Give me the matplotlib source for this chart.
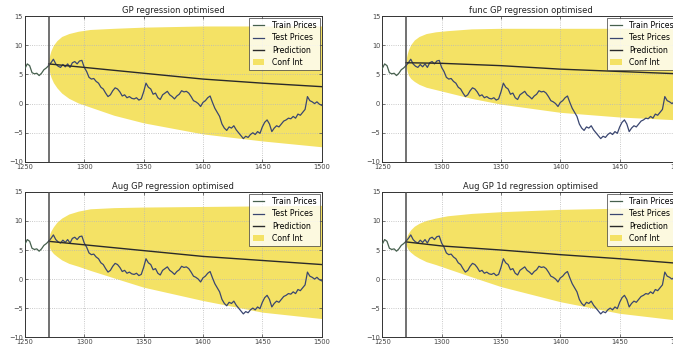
import matplotlib
matplotlib.use("Agg")
import matplotlib.pyplot as plt
import numpy as np

# observed prices (every 2 steps)
days = np.arange(1250, 1501, 2)
prices = [6.0, 6.8, 6.5, 5.3, 5.1, 5.2, 4.8, 5.2, 5.8, 6.1,
          6.5, 7.0, 7.6, 6.8, 6.4, 6.2, 6.7, 6.3, 6.8, 6.2,
          7.0, 7.2, 6.8, 7.3, 7.4, 6.2, 5.5, 4.5, 4.2, 4.3,
          3.8, 3.5, 2.8, 2.5, 1.8, 1.2, 1.5, 2.2, 2.7, 2.5,
          2.0, 1.3, 1.5, 1.0, 1.2, 0.9, 0.8, 1.0, 0.6, 0.8,
          2.0, 3.5, 2.8, 2.5, 1.6, 1.8, 1.0, 0.7, 1.5, 1.8,
          2.1, 1.5, 1.2, 0.8, 1.3, 1.6, 2.2, 2.0, 2.1, 1.8,
          1.2, 0.5, 0.3, 0.0, -0.5, 0.2, 0.5, 1.0, 1.3, 0.2,
          -0.8, -1.5, -2.2, -3.5, -4.2, -4.6, -4.0, -4.2, -3.8, -4.5,
          -5.0, -5.5, -6.0, -5.6, -5.8, -5.3, -5.0, -5.3, -4.8, -5.1,
          -4.0, -3.2, -2.8, -3.5, -4.8, -4.2, -3.8, -4.0, -3.5, -3.0,
          -2.8, -2.5, -2.6, -2.2, -2.5, -1.8, -2.0, -1.5, -1.0, 1.2,
          0.5, 0.3, 0.0, 0.3, -0.1, -0.3]
split = 1270

# prediction mean and confidence bounds per model
pred_x = [1270, 1300, 1350, 1400, 1450, 1500]
conf_x = [1270, 1270.5, 1271, 1272, 1274, 1277, 1281, 1287, 1295, 1305,
          1325, 1350, 1400, 1450, 1500]

titles = ["GP regression optimised", "func GP regression optimised",
          "Aug GP regression optimised", "Aug GP 1d regression optimised"]
pred_y = [[6.8, 6.2, 5.2, 4.2, 3.5, 2.9],
          [7.0, 6.9, 6.5, 5.9, 5.5, 5.1],
          [6.5, 5.9, 4.9, 3.9, 3.2, 2.5],
          [6.4, 5.7, 5.0, 4.2, 3.5, 2.7]]
conf_upper = [[6.8, 7.9, 8.4, 9.1, 10.0, 10.8, 11.5, 12.0, 12.4, 12.7, 12.9, 13.1, 13.3, 13.3, 13.3],
              [7.0, 8.0, 8.5, 9.2, 10.1, 10.9, 11.5, 12.0, 12.3, 12.5, 12.8, 12.9, 12.9, 12.9, 12.9],
              [6.5, 7.4, 7.8, 8.3, 9.0, 9.8, 10.5, 11.2, 11.7, 12.1, 12.3, 12.4, 12.5, 12.6, 12.7],
              [6.4, 7.2, 7.5, 7.9, 8.5, 9.1, 9.6, 10.1, 10.5, 10.9, 11.3, 11.6, 12.0, 12.2, 12.3]]
conf_lower = [[6.8, 5.7, 5.2, 4.5, 3.6, 2.7, 1.8, 0.9, 0.1, -0.6, -2.0, -3.3, -5.2, -6.4, -7.4],
              [7.0, 6.0, 5.5, 4.9, 4.3, 3.8, 3.3, 2.8, 2.4, 1.9, 0.9, -0.1, -1.5, -2.3, -2.8],
              [6.5, 5.7, 5.3, 4.9, 4.4, 3.9, 3.3, 2.7, 2.2, 1.5, 0.2, -1.4, -3.7, -5.7, -6.8],
              [6.4, 5.7, 5.4, 5.0, 4.6, 4.1, 3.6, 3.0, 2.5, 1.8, 0.4, -1.3, -3.9, -5.9, -7.1]]

fig = plt.figure(figsize=(6.73, 3.49), dpi=100)
positions = [[0.037, 0.536, 0.441, 0.418],
             [0.568, 0.536, 0.441, 0.418],
             [0.037, 0.034, 0.441, 0.416],
             [0.568, 0.034, 0.441, 0.416]]

days = np.asarray(days)
prices = np.asarray(prices)
train = days <= split
test = days >= split

for i in range(4):
    ax = fig.add_axes(positions[i])
    ax.fill_between(conf_x, conf_lower[i], conf_upper[i], color='#f4e265',
                    linewidth=0, label='Conf Int', zorder=1)
    ax.plot(days[train], prices[train], color='#46604e', lw=0.9, label='Train Prices', zorder=3)
    ax.plot(days[test], prices[test], color='#3a4670', lw=0.9, label='Test Prices', zorder=3)
    ax.plot(pred_x, pred_y[i], color='#2a2a2a', lw=1.0, label='Prediction', zorder=3)
    ax.axvline(split, color='#4a4a4a', lw=1.1, zorder=4)

    ax.set_xlim(1250, 1500)
    ax.set_ylim(-10, 15)
    ax.set_xticks([1250, 1300, 1350, 1400, 1450, 1500])
    ax.set_yticks([-10, -5, 0, 5, 10, 15])
    ax.tick_params(direction='in', labelsize=4.8, length=2.5, width=0.5,
                   colors='#444444', pad=1.5, top=True, right=True)
    ax.grid(True, color='#b8b8b8', linestyle=':', linewidth=0.6)
    for sp in ax.spines.values():
        sp.set_linewidth(0.7)
        sp.set_color('#333333')
    ax.set_title(titles[i], fontsize=6, pad=2, color='#222222')

    handles, labels = ax.get_legend_handles_labels()
    order = [1, 2, 3, 0]
    leg = ax.legend([handles[k] for k in order], [labels[k] for k in order],
                    loc='upper right', fontsize=5.6, handlelength=1.5,
                    labelspacing=0.42, borderpad=0.4, fancybox=False,
                    borderaxespad=0.25, handletextpad=1.0)
    leg.get_frame().set_edgecolor('#333333')
    leg.get_frame().set_linewidth(0.6)

fig.savefig('out.png', dpi=100)
